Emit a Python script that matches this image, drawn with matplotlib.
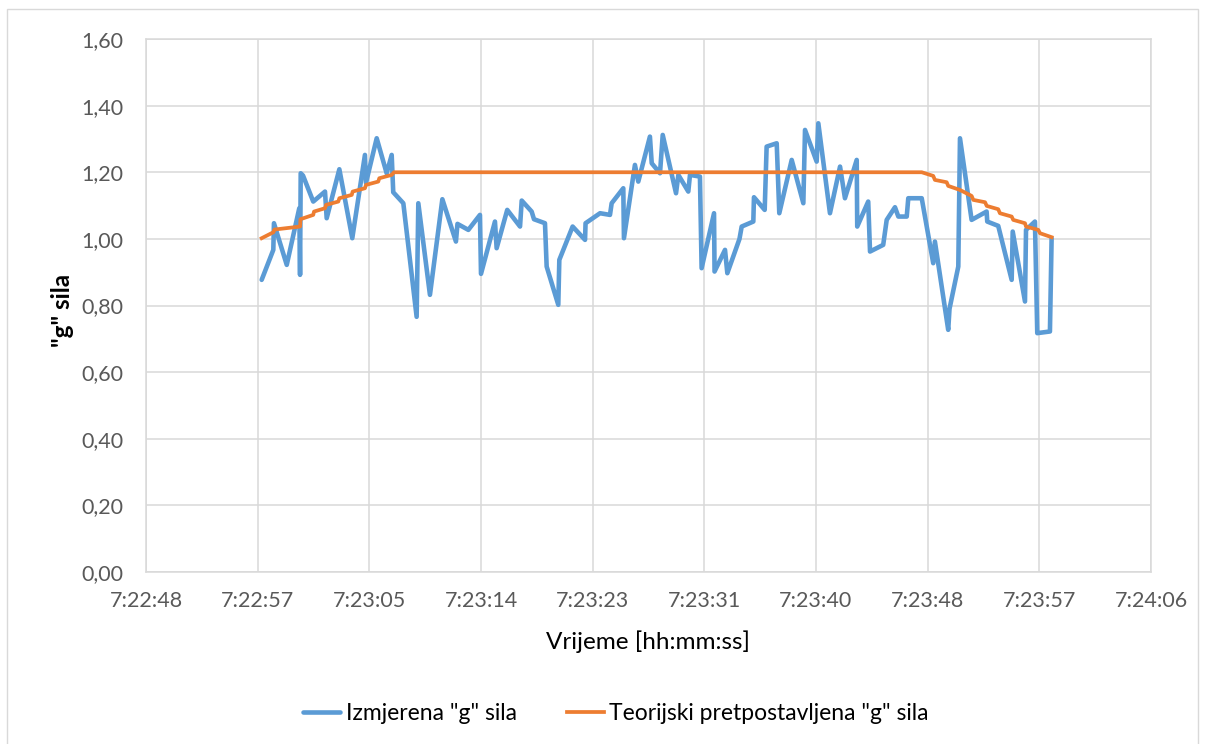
import matplotlib
matplotlib.use("Agg")
import matplotlib.pyplot as plt
from matplotlib.patches import Rectangle
from matplotlib.ticker import FixedLocator, FuncFormatter

plt.rcParams["font.family"] = ["Lato", "DejaVu Sans"]

# vrijeme u sekundama od 7:22:48
T0 = 7 * 3600 + 22 * 60 + 48

t_mjereno = [
    8.95, 9.85, 9.90, 10.89, 11.86, 11.92, 11.97, 12.15, 12.94, 13.85,
    13.98, 14.96, 15.96, 16.94, 17.02, 17.85, 18.62, 19.01, 19.13, 19.91,
    20.94, 21.07, 21.97, 22.93, 23.98, 24.10, 24.94, 25.84, 25.92, 27.00,
    27.13, 27.95, 28.94, 29.07, 29.84, 30.02, 30.87, 31.00, 31.90, 31.98,
    33.01, 33.97, 34.01, 35.13, 35.90, 36.03, 36.93, 36.98, 37.83, 38.09,
    38.99, 39.13, 39.77, 39.98, 41.01, 41.19, 41.96, 42.09, 42.86, 42.99,
    43.95, 43.99, 44.80, 44.98, 45.92, 46.09, 46.99, 47.04, 47.87, 48.02,
    48.80, 49.00, 49.96, 50.86, 50.99, 51.89, 52.02, 52.92, 53.70, 54.08,
    54.99, 55.03, 55.88, 56.02, 57.04, 57.31, 57.95, 58.21, 58.86, 58.98,
    60.02, 60.91, 61.04, 62.07, 62.17, 62.85, 62.98, 63.88, 65.04, 65.09,
    65.94, 66.98, 67.06, 68.01, 68.09, 68.78, 68.96, 69.94, 70.07,
]
g_mjereno = [
    0.877, 0.967, 1.047, 0.922, 1.092, 0.892, 1.197, 1.190, 1.112, 1.142,
    1.062, 1.209, 1.002, 1.252, 1.168, 1.302, 1.197, 1.252, 1.140, 1.107,
    0.766, 1.107, 0.832, 1.119, 0.992, 1.045, 1.027, 1.072, 0.895, 1.052,
    0.972, 1.087, 1.037, 1.115, 1.082, 1.059, 1.047, 0.917, 0.802, 0.937,
    1.037, 0.997, 1.047, 1.077, 1.072, 1.107, 1.152, 1.002, 1.222, 1.172,
    1.307, 1.227, 1.197, 1.312, 1.137, 1.192, 1.142, 1.192, 1.187, 0.912,
    1.077, 0.902, 0.967, 0.897, 1.000, 1.037, 1.052, 1.125, 1.087, 1.277,
    1.287, 1.077, 1.237, 1.107, 1.327, 1.232, 1.347, 1.077, 1.217, 1.122,
    1.237, 1.037, 1.112, 0.962, 0.982, 1.057, 1.095, 1.067, 1.067, 1.122,
    1.122, 0.927, 0.992, 0.727, 0.790, 0.917, 1.302, 1.057, 1.082, 1.052,
    1.039, 0.877, 1.022, 0.812, 1.027, 1.052, 0.717, 0.722, 1.002,
]

t_teorija = [
    8.95, 9.86, 9.94, 11.92, 11.95, 12.94, 13.00, 13.85, 13.93, 14.88,
    14.96, 15.92, 15.99, 16.94, 17.02, 17.97, 18.05, 19.01, 19.19, 60.02,
    60.91, 61.04, 61.95, 62.07, 62.97, 63.88, 64.01, 64.92, 65.05, 65.94,
    66.07, 66.98, 67.10, 68.01, 68.09, 69.04, 69.17, 70.07,
]
g_teorija = [
    1.002, 1.020, 1.028, 1.037, 1.059, 1.072, 1.082, 1.092, 1.102, 1.112,
    1.122, 1.132, 1.142, 1.152, 1.162, 1.172, 1.182, 1.192, 1.200, 1.200,
    1.189, 1.177, 1.170, 1.159, 1.147, 1.129, 1.117, 1.110, 1.099, 1.089,
    1.077, 1.067, 1.057, 1.047, 1.037, 1.027, 1.017, 1.005,
]

x_ticks = [8.64 * k for k in range(10)]
y_ticks = [0.0, 0.2, 0.4, 0.6, 0.8, 1.0, 1.2, 1.4, 1.6]


def fmt_vrijeme(x, pos=None):
    s = int(round(T0 + x))
    return f"{s // 3600}:{(s % 3600) // 60:02d}:{s % 60:02d}"


fig = plt.figure(figsize=(12.06, 7.44), dpi=100)
ax = fig.add_axes([146 / 1206, 1 - 572 / 744, (1151 - 146) / 1206, (572 - 39) / 744])

fig.patches.append(Rectangle((7 / 1206, -0.01), (1198 - 7) / 1206, 1 - 9 / 744 + 0.01,
                             transform=fig.transFigure, fill=False,
                             edgecolor="#d9d9d9", linewidth=1.0))

ax.plot(t_mjereno, g_mjereno, color="#5B9BD5", linewidth=3.3,
        solid_joinstyle="round", solid_capstyle="round", label='Izmjerena "g" sila', zorder=3)
ax.plot(t_teorija, g_teorija, color="#ED7D31", linewidth=2.7,
        solid_joinstyle="round", label='Teorijski pretpostavljena "g" sila', zorder=4)

ax.set_xlim(0, 77.76)
ax.set_ylim(0, 1.6)
ax.xaxis.set_major_locator(FixedLocator(x_ticks))
ax.yaxis.set_major_locator(FixedLocator(y_ticks))
ax.xaxis.set_major_formatter(FuncFormatter(fmt_vrijeme))
ax.yaxis.set_major_formatter(FuncFormatter(lambda v, p: f"{v:.2f}".replace(".", ",")))
ax.grid(True, color="#d9d9d9", linewidth=1.1, zorder=0)
ax.set_axisbelow(True)
for sp in ax.spines.values():
    sp.set_color("#d9d9d9")
    sp.set_linewidth(1.1)
ax.tick_params(length=0, labelsize=15.5, labelcolor="#595959")
ax.tick_params(axis="x", pad=14)
ax.tick_params(axis="y", pad=16)

fig.text(648 / 1206, 1 - 642 / 744, "Vrijeme [hh:mm:ss]", ha="center", va="center",
         fontsize=17.5, color="black")
fig.text(62 / 1206, 1 - 310 / 744, '"g" sila', ha="center", va="center",
         fontsize=17.5, fontweight="bold", rotation=90, color="black")

fig.legend(loc="center", bbox_to_anchor=(616 / 1206, 1 - 714 / 744), ncol=2,
           frameon=False, fontsize=16.5, handlelength=1.6, handletextpad=0.25,
           columnspacing=2.2)

fig.savefig("out.png", dpi=100)
plt.close(fig)
